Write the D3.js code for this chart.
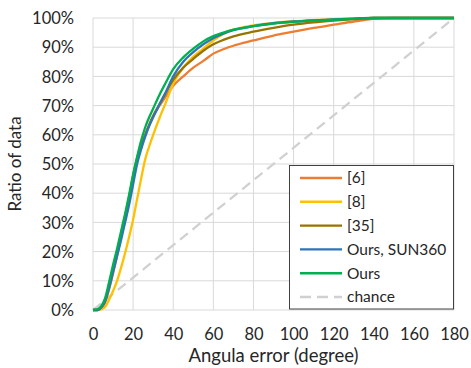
<!DOCTYPE html>
<html><head><meta charset="utf-8">
<script src="https://cdn.jsdelivr.net/npm/d3@7"></script>
<style>
html,body{margin:0;padding:0;background:#fff;}
svg{display:block;font-family:Lato,"Open Sans",sans-serif;}
</style></head>
<body><svg id="c" width="471" height="368"></svg>
<script>
const degrees = [0,2,4,6,8,10,12,14,16,18,20,22,24,26,28,30,33,36,40,45,50,55,60,65,70,80,90,100,110,120,130,140,150,160,170,180];
const ref6   = [0,0,0.5,2.5,7,12.5,18.5,25,31.5,38.5,46,52,56.5,60,63.2,66.3,69.8,72.8,76.8,80,83,85.3,87.8,89.3,90.5,92.3,94,95.3,96.6,97.7,98.8,99.7,100,100,100,100];
const ref8   = [0,0,0.2,1,3.5,6.5,10,14.5,19.5,25,31,38,45,51.5,56,60,65.5,70.5,77.5,83,86.8,89.5,92.3,94.5,96,97.5,98.3,98.9,99.3,99.6,99.8,100,100,100,100,100];
const ref35  = [0,0,0.8,3,8,13.5,19.5,25.5,32,38.5,45.5,51.8,56.3,60,63.5,66.5,70.3,74,78.8,83,86,88.8,91,92.5,93.7,95.3,96.6,97.7,98.5,99.1,99.6,100,100,100,100,100];
const oursSun= [0,0,0.8,3,7.5,13,18.5,24,30,36,43,50,55,59.3,63,66,70.2,74.2,80,85,88.3,91,93.1,94.6,95.8,97.2,98.2,98.8,99.2,99.5,99.8,100,100,100,100,100];
const ours   = [0,0.2,1.2,4,9.5,15.5,21,27,33,39.5,46.5,52.5,58,62.5,66,69,73.5,77.5,82.5,86.5,89.5,92,93.8,95,96,97.2,98.1,98.7,99.1,99.4,99.7,100,100,100,100,100];
const chanceX = [0,180];
const chanceY = [0,100];
const seriesNames = ["[6]","[8]","[35]","Ours, SUN360","Ours","chance"];
const seriesColors = ["#ED7D31","#FFC000","#997300","#2E75B6","#00B050","#D0D0D0"];
const xTicks = [0,20,40,60,80,100,120,140,160,180];
const yTicks = [0,10,20,30,40,50,60,70,80,90,100];
const xTitle = "Angula error (degree)";
const yTitle = "Ratio of data";

const svg = d3.select("#c");
const L=93, R=454, T=18, B=310;
const x = d3.scaleLinear().domain([0,180]).range([L,R]);
const y = d3.scaleLinear().domain([0,100]).range([B,T]);
const textColor = "#262626";

// grid
const g = svg.append("g");
g.selectAll("line.v").data(xTicks).join("line")
 .attr("x1",d=>x(d)).attr("x2",d=>x(d)).attr("y1",T).attr("y2",B)
 .attr("stroke","#d9d9d9").attr("stroke-width",1);
g.selectAll("line.h").data(yTicks).join("line")
 .attr("y1",d=>y(d)).attr("y2",d=>y(d)).attr("x1",L).attr("x2",R)
 .attr("stroke","#d9d9d9").attr("stroke-width",1);

// axes via d3
const xAxis = d3.axisBottom(x).tickValues(xTicks).tickSize(0).tickPadding(0).tickFormat(d=>d);
const xa = svg.append("g").attr("transform",`translate(0,${B})`).call(xAxis);
xa.select(".domain").remove();
xa.selectAll("text").attr("dy",null).attr("y",30).attr("font-size",16.5).attr("fill",textColor)
  .attr("font-family","Lato,'Open Sans',sans-serif");
const yAxis = d3.axisLeft(y).tickValues(yTicks).tickSize(0).tickPadding(0).tickFormat(d=>d+"%");
const ya = svg.append("g").attr("transform",`translate(${L-19},0)`).call(yAxis);
ya.select(".domain").remove();
ya.selectAll("text").attr("x",0).attr("dy","0.35em").attr("font-size",16.5).attr("fill",textColor)
  .attr("font-family","Lato,'Open Sans',sans-serif");

// titles
svg.append("text").attr("x",(L+R)/2).attr("y",362).attr("text-anchor","middle")
 .attr("font-size",18.5).attr("fill",textColor).text(xTitle);
svg.append("text").attr("transform",`translate(21,${(T+B)/2}) rotate(-90)`).attr("text-anchor","middle")
 .attr("font-size",17).attr("fill",textColor).text(yTitle);

// chance
const line = d3.line().x(d=>x(d[0])).y(d=>y(d[1]));
svg.append("path").datum(chanceX.map((d,i)=>[d,chanceY[i]]))
 .attr("d",line).attr("fill","none").attr("stroke",seriesColors[5]).attr("stroke-width",2.25)
 .attr("stroke-dasharray","10,6");

const curveLine = d3.line().x(d=>x(d[0])).y(d=>y(d[1])).curve(d3.curveMonotoneX);
const allSeries = [ref6, ref8, ref35, oursSun, ours];
allSeries.forEach((s,i)=>{
  svg.append("path").datum(degrees.map((d,j)=>[d,s[j]]))
   .attr("d",curveLine).attr("fill","none").attr("stroke",seriesColors[i])
   .attr("stroke-width",2.3).attr("stroke-linejoin","round");
});

// legend
const lg = svg.append("g");
lg.append("rect").attr("x",289.5).attr("y",165.5).attr("width",164).attr("height",143.5)
 .attr("fill","#fff").attr("stroke","#404040").attr("stroke-width",1);
seriesNames.forEach((n,i)=>{
  const cy = 178 + i*23.8;
  lg.append("line").attr("x1",300).attr("x2",342).attr("y1",cy).attr("y2",cy)
   .attr("stroke",seriesColors[i]).attr("stroke-width",2.4)
   .attr("stroke-dasharray", i===5 ? "11,6" : null);
  lg.append("text").attr("x",347).attr("y",cy).attr("dy","0.35em")
   .attr("font-size",15.5).attr("fill",textColor).text(n);
});
</script></body></html>
